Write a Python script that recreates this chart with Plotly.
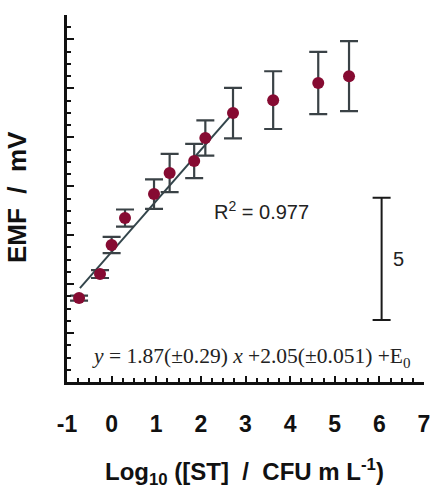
import plotly.graph_objects as go

# Potentiometric response: EMF vs log10 of bacterial concentration
log_conc = [-0.73, -0.26, 0.0, 0.30, 0.95, 1.30, 1.85, 2.10, 2.72, 3.62, 4.63, 5.32]
emf_mv = [3.43, 4.41, 5.60, 6.70, 7.68, 8.54, 9.03, 9.97, 10.99, 11.52, 12.22, 12.50]
emf_err = [0.10, 0.16, 0.33, 0.35, 0.60, 0.78, 0.70, 0.72, 1.03, 1.18, 1.27, 1.43]

# Linear fit over the linear range
fit_x = [-0.71, 2.72]
fit_y = [3.84, 10.99]

# Vertical scale bar (mV)
scale_x = 6.05
scale_bottom = 2.53
scale_len = 5

x_ticks = [-1, 0, 1, 2, 3, 4, 5, 6, 7]

marker_color = "#860b32"
bar_color = "#3a4246"
line_color = "#33454b"
sans = "Liberation Sans, Arial"

fig = go.Figure()

fig.add_trace(go.Scatter(
    x=fit_x, y=fit_y, mode="lines",
    line=dict(color=line_color, width=2),
    showlegend=False, hoverinfo="skip",
))

fig.add_trace(go.Scatter(
    x=log_conc, y=emf_mv, mode="markers",
    marker=dict(color=marker_color, size=12),
    error_y=dict(type="data", array=emf_err, visible=True,
                 color=bar_color, thickness=2.2, width=9),
    showlegend=False,
))

# scale bar drawn as a capped error bar around its midpoint
fig.add_trace(go.Scatter(
    x=[scale_x], y=[scale_bottom + scale_len / 2], mode="markers",
    marker=dict(size=1, color="rgba(0,0,0,0)"),
    error_y=dict(type="constant", value=scale_len / 2, visible=True,
                 color="#1a1a1a", thickness=2, width=9),
    showlegend=False, hoverinfo="skip",
))

annotations = [
    dict(x=scale_x + 0.2, y=scale_bottom + scale_len / 2, xref="x", yref="y",
         text=str(scale_len), showarrow=False, xanchor="left", yanchor="middle",
         font=dict(family=sans, size=20, color="#222")),
    dict(x=2.24, y=7.03, xref="x", yref="y",
         text="R<sup>2</sup> = 0.977", showarrow=False, xanchor="left", yanchor="middle",
         font=dict(family=sans, size=20, color="#222")),
    dict(x=-0.49, y=1.02, xref="x", yref="y",
         text="<i>y</i> = 1.87(±0.29) <i>x</i> +2.05(±0.051) +E<sub>0</sub>",
         showarrow=False, xanchor="left", yanchor="middle",
         font=dict(family="Liberation Serif, Times New Roman", size=21.5, color="#222")),
    dict(x=-0.14, y=0.504, xref="paper", yref="paper",
         text="<b>EMF  /  mV</b>", textangle=-90, showarrow=False,
         xanchor="center", yanchor="middle",
         font=dict(family=sans, size=26, color="#111")),
    dict(x=0.496, y=-0.246, xref="paper", yref="paper",
         text="<b>Log<sub>10</sub> ([ST]  /  CFU m L<sup>-1</sup>)</b>", showarrow=False,
         xanchor="center", yanchor="middle",
         font=dict(family=sans, size=24, color="#111")),
]

fig.update_layout(
    width=438, height=490,
    margin=dict(l=67, r=8, t=15, b=108),
    paper_bgcolor="white", plot_bgcolor="white",
    annotations=annotations,
    xaxis=dict(
        range=[-1, 7], tickvals=x_ticks, ticktext=[f"<b>{v}</b>" for v in x_ticks],
        showgrid=False, zeroline=False,
        showline=True, linecolor="#111", linewidth=2.5,
        ticks="inside", ticklen=6, tickwidth=2, tickcolor="#111",
        minor=dict(ticks="inside", ticklen=4, tickwidth=1.5, dtick=0.25,
                   tickcolor="#111", showgrid=False),
        tickfont=dict(family=sans, size=23, color="#111"),
        ticklabelstandoff=20,
    ),
    yaxis=dict(
        range=[0, 15], dtick=2, tick0=0, showticklabels=False,
        showgrid=False, zeroline=False,
        showline=True, linecolor="#111", linewidth=2.5,
        ticks="inside", ticklen=7, tickwidth=2, tickcolor="#111",
        minor=dict(ticks="inside", ticklen=4, tickwidth=1.5, dtick=0.5,
                   tickcolor="#111", showgrid=False),
    ),
)

fig.write_html("out.html")
